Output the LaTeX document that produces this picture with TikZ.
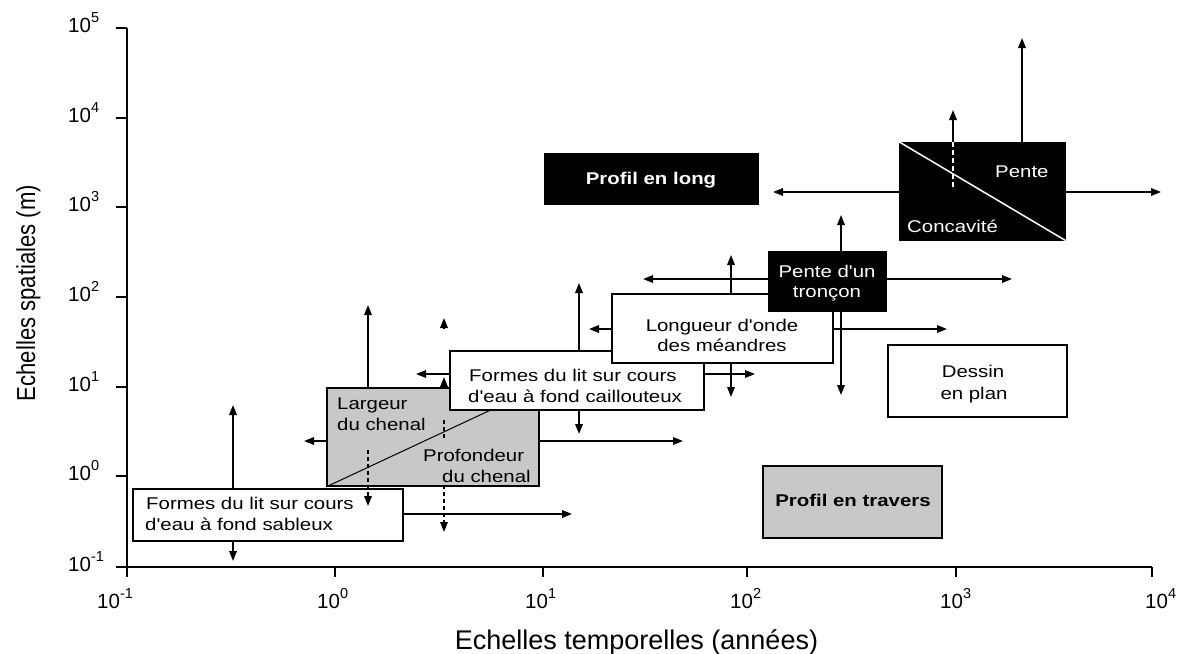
\documentclass[tikz,border=0pt]{standalone}
\usepackage{fontspec}
\setmainfont{Liberation Sans}
\newfontfamily\boxfont[FakeStretch=1.2]{Liberation Sans}
\newfontfamily\ytitlefont[FakeStretch=0.85]{Liberation Sans}
\usetikzlibrary{arrows.meta}
\definecolor{boxgray}{RGB}{199,200,202}
\newcommand\ticklab[1]{10\raisebox{9.5pt}{\fontsize{14.5}{14.5}\selectfont #1}}
\tikzset{
  axisline/.style={line width=2.4pt},
  arr/.style={line width=1.7pt,-{Triangle[length=10pt,width=7.5pt]}},
  darr/.style={line width=1.7pt,dash pattern=on 4pt off 3pt,-{Triangle[length=10pt,width=7.5pt]}},
  dline/.style={line width=1.7pt,dash pattern=on 4pt off 3pt},
  wbox/.style={draw=black,fill=white,line width=2pt,inner sep=0pt},
  gbox/.style={draw=black,fill=boxgray,line width=2pt,inner sep=0pt},
  kbox/.style={draw=black,fill=black,line width=1pt,inner sep=0pt},
  bt/.style={inner sep=0pt,font=\boxfont\fontsize{17}{21}\selectfont},
  btw/.style={bt,text=white},
  tickl/.style={inner sep=0pt,anchor=base west,font=\fontsize{20.5}{20.5}\selectfont},
}
\begin{document}
\begin{tikzpicture}[x=1pt,y=-1pt]
\useasboundingbox (0,0) rectangle (1188,653);
\fill[white] (0,0) rectangle (1188,653);

% axes
\draw[axisline] (127,28) -- (127,567) -- (1152,567);
\foreach \yy in {28,118,207,297,387,476,567} \draw[axisline] (116,\yy) -- (127,\yy);
\foreach \xx in {127,335,543,747,956,1152} \draw[axisline] (\xx,567) -- (\xx,577);

% tick labels
\node[tickl] (y5) at (68,32) {\ticklab{5}};
\node[tickl] (y4) at (68,122) {\ticklab{4}};
\node[tickl] (y3) at (68,211) {\ticklab{3}};
\node[tickl] (y2) at (68,301) {\ticklab{2}};
\node[tickl] (y1) at (68,391) {\ticklab{1}};
\node[tickl] (y0) at (68,480) {\ticklab{0}};
\node[tickl] (ym) at (68,571) {\ticklab{-1}};
\node[tickl] (xm) at (97,608) {\ticklab{-1}};
\node[tickl] (x0) at (317,608) {\ticklab{0}};
\node[tickl] (x1) at (525,608) {\ticklab{1}};
\node[tickl] (x2) at (730,608) {\ticklab{2}};
\node[tickl] (x3) at (940,608) {\ticklab{3}};
\node[tickl] (x4) at (1145,608) {\ticklab{4}};

% axis titles
\node[anchor=base,inner sep=0pt,font=\fontsize{27}{27}\selectfont] (xtitle) at (636.5,649) {Echelles temporelles (années)};
\node[rotate=90,anchor=base,inner sep=0pt,font=\ytitlefont\fontsize{26}{26}\selectfont] (ytitle) at (35,293) {Echelles spatiales (m)};

% helper coordinates for connector positions
\coordinate (xs1) at (233,0);  \coordinate (ys1) at (0,514);
\coordinate (xc1) at (368,0);  \coordinate (xc2) at (444,0); \coordinate (yc1) at (0,441);
\coordinate (xg1) at (579,0);  \coordinate (yg1) at (0,374);
\coordinate (xl1) at (731,0);  \coordinate (yl1) at (0,329);
\coordinate (xt1) at (841,0);  \coordinate (yt1) at (0,279);
\coordinate (xp1) at (1022,0); \coordinate (xp2) at (953,0); \coordinate (yp1) at (0,192);

% box outlines used as connector anchors
\path
  node[minimum width=270pt,minimum height=52pt,inner sep=0pt] (sand0) at (268,515) {}
  node[minimum width=212pt,minimum height=98pt,inner sep=0pt] (chenal0) at (433,437) {}
  node[minimum width=254pt,minimum height=59pt,inner sep=0pt] (gravel0) at (577,380.5) {}
  node[minimum width=221pt,minimum height=69pt,inner sep=0pt] (longueur0) at (722.5,328.5) {}
  node[minimum width=118pt,minimum height=60pt,inner sep=0pt] (troncon0) at (827,281) {}
  node[minimum width=166pt,minimum height=98pt,inner sep=0pt] (pente0) at (982,191) {};

% solid arrows
\draw[arr] (sand0.north -| xs1) -- (233,405);
\draw[arr] (sand0.south -| xs1) -- (233,561);
\draw[arr] (sand0.east |- ys1) -- (572,514);
\draw[arr] (chenal0.west |- yc1) -- (304,441);
\draw[arr] (chenal0.east |- yc1) -- (683,441);
\draw[arr] (chenal0.north -| xc1) -- (368,305);
\draw[arr] (chenal0.north -| xc2) -- (444,377);
\draw[arr] (444,329) -- (444,318);
\draw[arr] (gravel0.west |- yg1) -- (416,374);
\draw[arr] (gravel0.north -| xg1) -- (579,283);
\draw[arr] (gravel0.south -| xg1) -- (579,434);
\draw[arr] (gravel0.east |- yg1) -- (755,374);
\draw[arr] (longueur0.west |- yl1) -- (589,329);
\draw[arr] (longueur0.east |- yl1) -- (947,329);
\draw[arr] (longueur0.north -| xl1) -- (731,255);
\draw[arr] (longueur0.south -| xl1) -- (731,397);
\draw[arr] (troncon0.west |- yt1) -- (643,279);
\draw[arr] (troncon0.east |- yt1) -- (1012,279);
\draw[arr] (troncon0.north -| xt1) -- (841,215);
\draw[arr] (troncon0.south -| xt1) -- (841,395);
\draw[arr] (pente0.west |- yp1) -- (773,192);
\draw[arr] (pente0.east |- yp1) -- (1161,192);
\draw[arr] (pente0.north -| xp1) -- (1022,38);
\draw[arr] (pente0.north -| xp2) -- (953,110);

% sand box
\node[wbox,minimum width=270pt,minimum height=52pt] (sand) at (268,515) {};
\node[bt,anchor=base west] (sandt1) at (146,509) {Formes du lit sur cours};
\node[bt,anchor=base west] (sandt2) at (145,530) {d'eau à fond sableux};

% channel box
\node[gbox,minimum width=212pt,minimum height=98pt] (chenal) at (433,437) {};
\draw[line width=1pt] (chenal.south west) ++(2,-1) -- (chenal.north east);
\draw[darr] (368,450) -- (368,506);
\draw[dline] (444,420) -- (444,440);
\draw[darr] (444,485) -- (444,532);
\node[bt,anchor=base west] (larg1) at (337,409) {Largeur};
\node[bt,anchor=base west] (larg2) at (337,430) {du chenal};
\node[bt,anchor=base west] (prof1) at (423,461) {Profondeur};
\node[bt,anchor=base west] (prof2) at (442,482) {du chenal};

% gravel box
\node[wbox,minimum width=254pt,minimum height=59pt] (gravel) at (577,380.5) {};
\node[bt,anchor=base west] (grav1) at (469,381) {Formes du lit sur cours};
\node[bt,anchor=base west] (grav2) at (468,402) {d'eau à fond caillouteux};

% meander wavelength
\node[wbox,minimum width=221pt,minimum height=69pt] (longueur) at (722.5,328.5) {};
\node[bt,anchor=base] (long1) at (722,331) {Longueur d'onde};
\node[bt,anchor=base] (long2) at (722,351) {des méandres};

% reach slope
\node[kbox,minimum width=118pt,minimum height=60pt] (troncon) at (827,281) {};
\node[btw,anchor=base] (tron1) at (827,277) {Pente d'un};
\node[btw,anchor=base] (tron2) at (827,297) {tronçon};

% long profile
\node[kbox,minimum width=214pt,minimum height=51pt] (plong) at (651,178.5) {};
\node[btw,anchor=base,font=\boxfont\bfseries\fontsize{17}{21}\selectfont] (plongt) at (651,184) {Profil en long};

% slope / concavity
\node[kbox,minimum width=166pt,minimum height=98pt] (pente) at (982,191) {};
\draw[white,line width=1.5pt] (pente.north west) -- (pente.south east);
\draw[white,line width=1.7pt,dash pattern=on 5pt off 3pt] (pente.north -| xp2) -- (953,188);
\node[btw,anchor=base west] (pentet) at (995,177) {Pente};
\node[btw,anchor=base west] (concav) at (907,232) {Concavité};

% planform
\node[wbox,minimum width=179pt,minimum height=72pt] (dessin) at (977.5,381) {};
\node[bt,anchor=base] (dess1) at (973,377) {Dessin};
\node[bt,anchor=base] (dess2) at (974,399) {en plan};

% cross profile
\node[gbox,minimum width=179pt,minimum height=72pt] (travers) at (852.5,502) {};
\node[bt,anchor=base,font=\boxfont\bfseries\fontsize{17}{21}\selectfont] (travt) at (853,506) {Profil en travers};
\end{tikzpicture}
\end{document}
